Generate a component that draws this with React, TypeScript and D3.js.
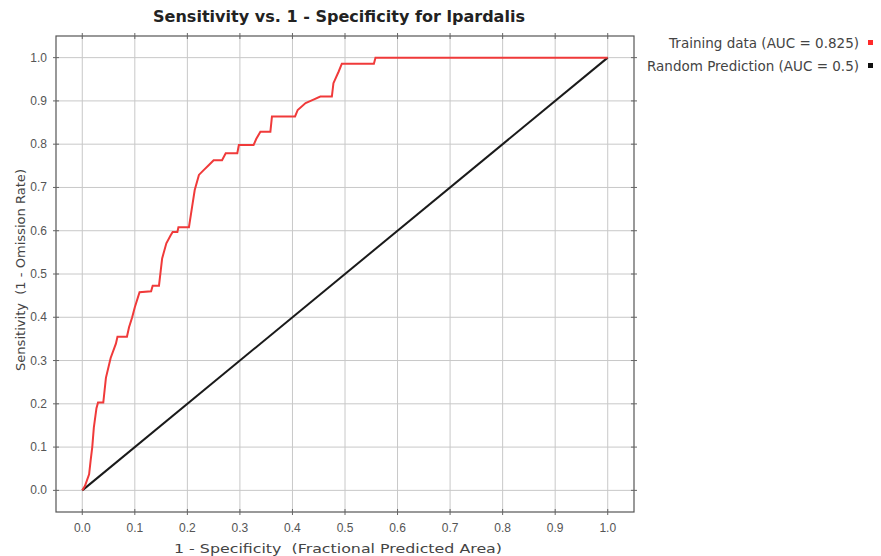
import React, { useEffect, useRef } from 'react';
import * as d3 from 'd3';

// Chart size and plot frame
const W = 881;
const H = 556;
const frame = { left: 56, top: 36, right: 634, bottom: 512 };

// ROC curve of the training data (1 - specificity, sensitivity)
const fpr = [0, 0.005, 0.013, 0.016, 0.019, 0.022, 0.027, 0.03, 0.04, 0.045, 0.054, 0.064, 0.067, 0.085,
    0.089, 0.095, 0.1, 0.109, 0.131, 0.134, 0.146, 0.152, 0.16, 0.168, 0.172, 0.181, 0.183, 0.203,
    0.209, 0.214, 0.222, 0.231, 0.241, 0.25, 0.266, 0.273, 0.295, 0.298, 0.326, 0.331, 0.339, 0.358,
    0.361, 0.405, 0.41, 0.425, 0.44, 0.453, 0.475, 0.478, 0.488, 0.494, 0.555, 0.558, 1.0];
const tpr = [0, 0.01, 0.037, 0.07, 0.1, 0.145, 0.19, 0.203, 0.203, 0.26, 0.306, 0.339, 0.355, 0.355,
    0.377, 0.4, 0.423, 0.458, 0.46, 0.473, 0.473, 0.536, 0.571, 0.589, 0.597, 0.597, 0.608, 0.608,
    0.655, 0.694, 0.729, 0.74, 0.752, 0.763, 0.763, 0.779, 0.779, 0.798, 0.798, 0.812, 0.829, 0.829,
    0.864, 0.864, 0.879, 0.895, 0.903, 0.91, 0.91, 0.941, 0.968, 0.986, 0.986, 1.0, 1.0];

// Random prediction line
const randomX = [0, 1];
const randomY = [0, 1];

const ticks = [0, 0.1, 0.2, 0.3, 0.4, 0.5, 0.6, 0.7, 0.8, 0.9, 1.0];
const legendLabels = ['Training data (AUC = 0.825)', 'Random Prediction (AUC = 0.5)'];
const legendColors = ['#ff2a2a', '#111111'];

const title = 'Sensitivity vs. 1 - Specificity for lpardalis';
const xTitle = '1 - Specificity  (Fractional Predicted Area)';
const yTitle = 'Sensitivity  (1 - Omission Rate)';

function App() {
    const ref = useRef(null);

    useEffect(() => {
        const svg = d3.select(ref.current).html('');
        const font = '"Liberation Sans", Arial, sans-serif';
        const wide = '"DejaVu Sans", sans-serif';

        svg.append('rect').attr('width', W).attr('height', H).attr('fill', '#fff');

        const x = d3.scaleLinear().domain([-0.05, 1.05]).range([frame.left, frame.right]);
        const y = d3.scaleLinear().domain([-0.05, 1.05]).range([frame.bottom, frame.top]);

        // Grid lines
        svg.append('g').selectAll('line.gx').data(ticks).enter().append('line')
            .attr('x1', (d) => x(d)).attr('x2', (d) => x(d))
            .attr('y1', frame.top).attr('y2', frame.bottom)
            .attr('stroke', '#c8c8c8').attr('stroke-width', 1);
        svg.append('g').selectAll('line.gy').data(ticks).enter().append('line')
            .attr('y1', (d) => y(d)).attr('y2', (d) => y(d))
            .attr('x1', frame.left).attr('x2', frame.right)
            .attr('stroke', '#c8c8c8').attr('stroke-width', 1);

        // Curves
        const line = d3.line().x((d) => x(d[0])).y((d) => y(d[1]));
        svg.append('path')
            .datum(randomX.map((v, i) => [v, randomY[i]]))
            .attr('d', line).attr('fill', 'none')
            .attr('stroke', '#1a1a1a').attr('stroke-width', 2);
        svg.append('path')
            .datum(fpr.map((v, i) => [v, tpr[i]]))
            .attr('d', line).attr('fill', 'none')
            .attr('stroke', '#f03a3a').attr('stroke-width', 2)
            .attr('stroke-linejoin', 'miter');

        // Frame
        svg.append('rect')
            .attr('x', frame.left).attr('y', frame.top)
            .attr('width', frame.right - frame.left).attr('height', frame.bottom - frame.top)
            .attr('fill', 'none').attr('stroke', '#555').attr('stroke-width', 1.2);

        // Ticks crossing the frame
        const tk = svg.append('g').attr('stroke', '#666').attr('stroke-width', 1);
        ticks.forEach((t) => {
            tk.append('line').attr('x1', x(t)).attr('x2', x(t)).attr('y1', frame.bottom - 3).attr('y2', frame.bottom + 3);
            tk.append('line').attr('x1', x(t)).attr('x2', x(t)).attr('y1', frame.top - 3).attr('y2', frame.top + 3);
            tk.append('line').attr('y1', y(t)).attr('y2', y(t)).attr('x1', frame.left - 3).attr('x2', frame.left + 3);
            tk.append('line').attr('y1', y(t)).attr('y2', y(t)).attr('x1', frame.right - 3).attr('x2', frame.right + 3);
        });

        // Tick labels
        svg.append('g').selectAll('text').data(ticks).enter().append('text')
            .attr('x', (d) => x(d)).attr('y', frame.bottom + 20)
            .attr('text-anchor', 'middle').attr('font-family', font).attr('font-size', 12)
            .attr('fill', '#555').text((d) => d3.format('.1f')(d));
        svg.append('g').selectAll('text').data(ticks).enter().append('text')
            .attr('x', frame.left - 9).attr('y', (d) => y(d) + 4)
            .attr('text-anchor', 'end').attr('font-family', font).attr('font-size', 12)
            .attr('fill', '#555').text((d) => d3.format('.1f')(d));

        // Titles
        svg.append('text').attr('x', 339).attr('y', 22)
            .attr('text-anchor', 'middle').attr('font-family', wide)
            .attr('font-weight', 'bold').attr('font-size', 15).attr('fill', '#222')
            .attr('textLength', 372).attr('lengthAdjust', 'spacingAndGlyphs').text(title);
        svg.append('text').attr('x', 338).attr('y', 553)
            .attr('text-anchor', 'middle').attr('font-family', wide).attr('font-size', 13)
            .attr('fill', '#444').style('white-space', 'pre')
            .attr('textLength', 328).attr('lengthAdjust', 'spacingAndGlyphs').text(xTitle);
        svg.append('text')
            .attr('transform', `translate(25,270) rotate(-90)`)
            .attr('text-anchor', 'middle').attr('font-family', wide).attr('font-size', 12.5)
            .attr('fill', '#444').style('white-space', 'pre')
            .attr('textLength', 202).attr('lengthAdjust', 'spacingAndGlyphs').text(yTitle);

        // Legend
        const lg = svg.append('g');
        legendLabels.forEach((label, i) => {
            const ly = 48 + i * 23;
            lg.append('text').attr('x', 859).attr('y', ly)
                .attr('text-anchor', 'end').attr('font-family', wide).attr('font-size', 13.5)
                .attr('fill', '#444').text(label);
            lg.append('rect').attr('x', 868).attr('y', ly - 8).attr('width', 5).attr('height', 5)
                .attr('fill', legendColors[i]);
        });
    }, []);

    return <svg ref={ref} width={W} height={H} style={{ position: 'absolute', left: 0, top: 0 }}></svg>;
}

export default App;
